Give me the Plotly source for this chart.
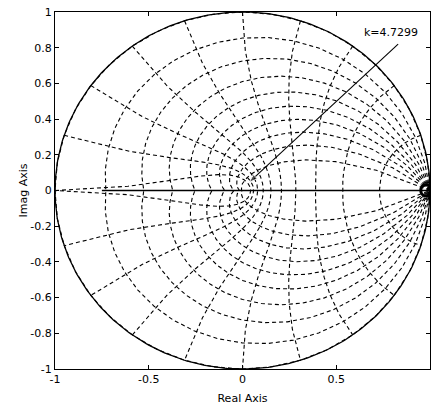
import numpy as np
import plotly.graph_objects as go

# ---- data ----
zeta_values = [0.0, 0.1, 0.2, 0.3, 0.4, 0.5, 0.6, 0.7, 0.8, 0.9]
wn_values = [k * np.pi / 10 for k in range(0, 11)]
x_ticks = [-1, -0.5, 0, 0.5, 1]
x_tick_labels = ["-1", "-0.5", "0", "0.5", "1"]
y_ticks = [-1, -0.8, -0.6, -0.4, -0.2, 0, 0.2, 0.4, 0.6, 0.8, 1]
y_tick_labels = ["-1", "-0.8", "-0.6", "-0.4", "-0.2", "0", "0.2", "0.4", "0.6", "0.8", "1"]

# root locus branch on the real axis
locus_re = [-0.75, 1.0]
locus_im = [0.0, 0.0]
# gain-selection pointer line (label -> selected point)
k_line_re = [0.83, 0.035]
k_line_im = [0.82, 0.045]
k_label = "k=4.7299"
k_label_pos = [0.79, 0.883]
# pole/zero cluster near z = 1
pz_re = [0.98]
pz_im = [0.0]

FONT = "DejaVu Sans, Liberation Sans, Arial"

fig = go.Figure()
dash_style = dict(color="black", width=1.1, dash="4px,3px")

# damping ratio lines (zgrid style, coarse sampling)
theta = np.arange(0, np.pi + 1e-9, np.pi / 20)
for z in zeta_values:
    m = np.tan(np.arcsin(z)) + 1e-12
    zz = np.exp(theta * (-m + 1j))
    full = np.concatenate([zz, np.conj(zz[::-1])])
    fig.add_trace(go.Scatter(x=full.real, y=full.imag, mode="lines",
                             line=dash_style, hoverinfo="skip", showlegend=False))

# natural frequency lines
eth = np.exp(1j * np.arange(np.pi / 2, np.pi + 1e-9, np.pi / 20))
for w in wn_values:
    zz = np.exp(w * eth)
    full = np.concatenate([zz, np.conj(zz[::-1])])
    fig.add_trace(go.Scatter(x=full.real, y=full.imag, mode="lines",
                             line=dash_style, hoverinfo="skip", showlegend=False))

# unit circle
phi = np.linspace(0, 2 * np.pi, 400)
fig.add_trace(go.Scatter(x=np.cos(phi), y=np.sin(phi), mode="lines",
                         line=dict(color="black", width=1.3), showlegend=False))

# root locus on real axis
fig.add_trace(go.Scatter(x=locus_re, y=locus_im, mode="lines",
                         line=dict(color="black", width=1.3), showlegend=False))

# pointer line with arrowhead
fig.add_trace(go.Scatter(x=k_line_re, y=k_line_im, mode="lines+markers",
                         line=dict(color="black", width=1.1),
                         marker=dict(symbol="arrow", size=[0, 9], angleref="previous",
                                     color="black"),
                         showlegend=False))

# pole/zero cluster
fig.add_trace(go.Scatter(x=pz_re, y=pz_im, mode="markers",
                         marker=dict(symbol="circle-open", size=11, color="black",
                                     line=dict(width=3, color="black")),
                         showlegend=False))

fig.add_annotation(x=k_label_pos[0], y=k_label_pos[1], text=k_label, showarrow=False,
                   font=dict(family=FONT, size=11, color="black"))

axis_common = dict(showgrid=False, zeroline=False, showline=True, linecolor="black",
                   linewidth=1, mirror="ticks", ticks="inside", ticklen=4,
                   tickcolor="black",
                   tickfont=dict(family=FONT, size=11, color="black"))

fig.update_xaxes(range=[-1, 1], tickvals=x_ticks, ticktext=x_tick_labels,
                 title=dict(text="Real Axis", standoff=9,
                            font=dict(family=FONT, size=11, color="black")),
                 **axis_common)
fig.update_yaxes(range=[-1, 1], tickvals=y_ticks, ticktext=y_tick_labels,
                 title=dict(text="Imag Axis", standoff=0,
                            font=dict(family=FONT, size=11, color="black")),
                 **axis_common)

fig.update_layout(width=432, height=410, margin=dict(l=55, r=2, t=12, b=41),
                  plot_bgcolor="white", paper_bgcolor="white", showlegend=False)

fig.write_html("out.html")
